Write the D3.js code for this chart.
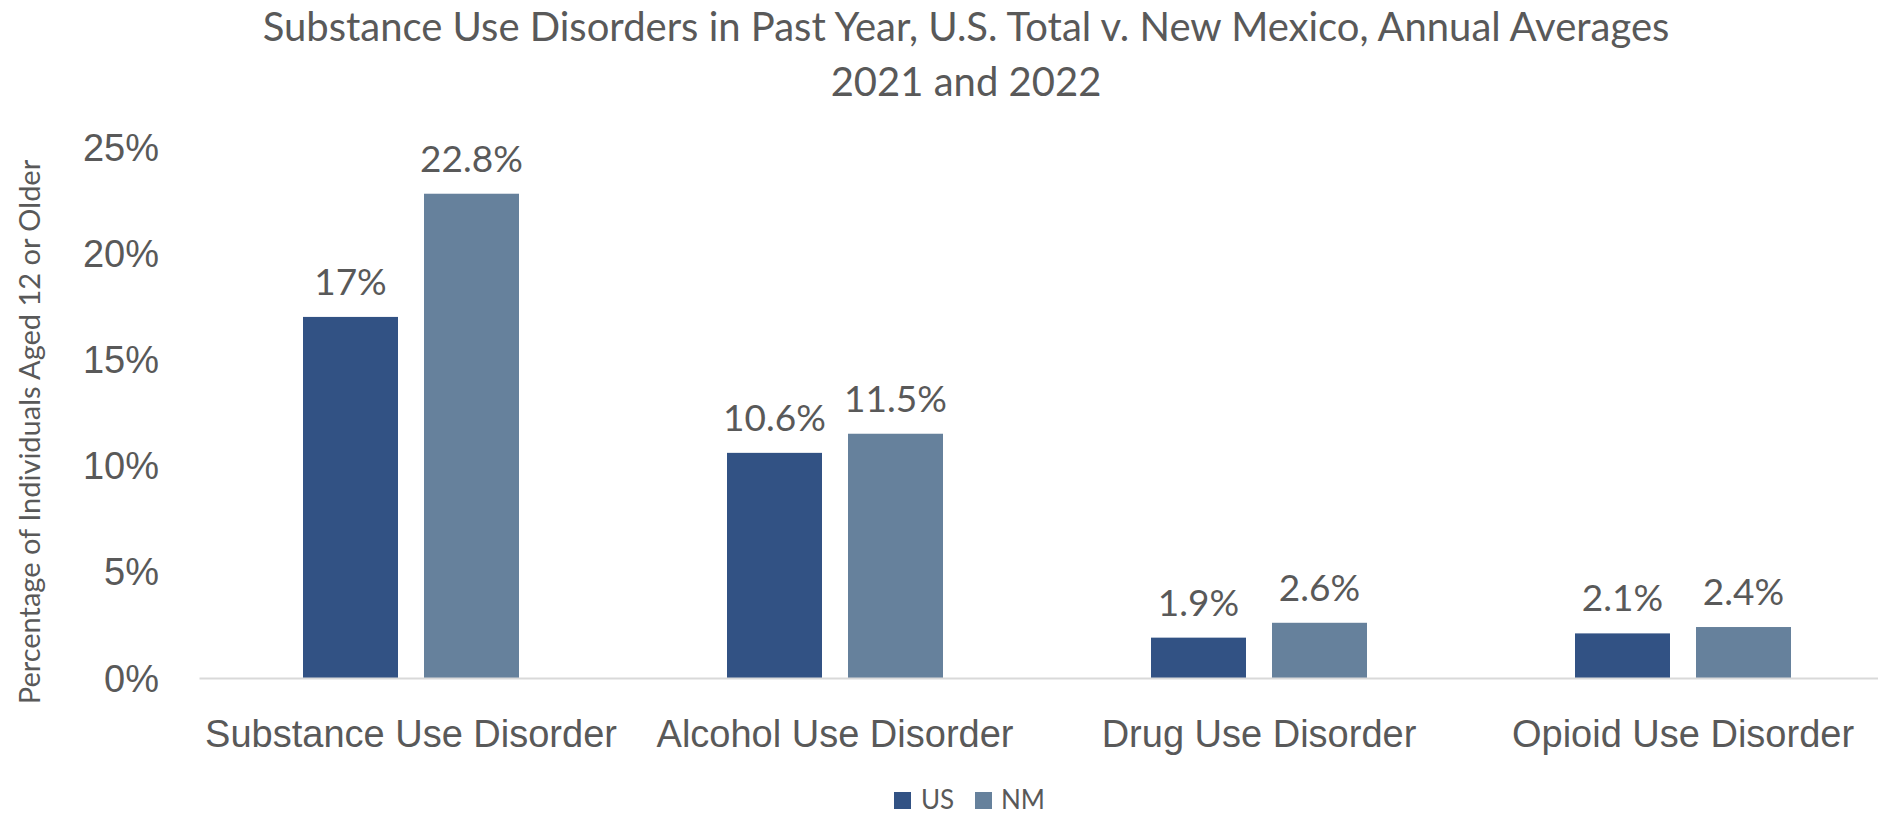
<!DOCTYPE html>
<html>
<head>
<meta charset="utf-8">
<script src="https://cdn.jsdelivr.net/npm/d3@7"></script>
<style>
  html, body { margin: 0; padding: 0; background: #ffffff; }
  svg { display: block; font-family: Lato, "Open Sans", sans-serif; }
</style>
</head>
<body>
<svg id="chart" width="1878" height="815"></svg>
<script>
// Substance use disorder prevalence, people aged 12+, 2021–2022 annual averages
const categories = ["Substance Use Disorder", "Alcohol Use Disorder", "Drug Use Disorder", "Opioid Use Disorder"];
const seriesNames = ["US", "NM"];
const usValues = [17, 10.6, 1.9, 2.1];
const nmValues = [22.8, 11.5, 2.6, 2.4];
const valueLabelsUS = ["17%", "10.6%", "1.9%", "2.1%"];
const valueLabelsNM = ["22.8%", "11.5%", "2.6%", "2.4%"];
const yTicks = [0, 5, 10, 15, 20, 25];
const titleLines = ["Substance Use Disorders in Past Year, U.S. Total v. New Mexico, Annual Averages", "2021 and 2022"];
const yAxisTitle = "Percentage of Individuals Aged 12 or Older";

const colors = { US: "#325284", NM: "#66819c" };
const textColor = "#595959";

const rows = categories.map((c, i) => ({
  category: c,
  values: [
    { key: "US", value: usValues[i], label: valueLabelsUS[i] },
    { key: "NM", value: nmValues[i], label: valueLabelsNM[i] }
  ]
}));

const svg = d3.select("#chart");

const plot = { left: 199, right: 1895, top: 147, bottom: 678 };

const x0 = d3.scaleBand()
  .domain(categories)
  .range([plot.left, plot.right])
  .paddingInner(0)
  .paddingOuter(0);

const groupPad = 104;
const x1 = d3.scaleBand()
  .domain(seriesNames)
  .range([groupPad, x0.bandwidth() - groupPad])
  .paddingInner(0.215)
  .paddingOuter(0);

const y = d3.scaleLinear()
  .domain([0, 25])
  .range([plot.bottom, plot.top]);

// Title
svg.append("g")
  .selectAll("text")
  .data(titleLines)
  .join("text")
  .attr("x", 966)
  .attr("y", (d, i) => 41 + i * 55)
  .attr("text-anchor", "middle")
  .attr("fill", textColor)
  .attr("font-size", 40)
  .text(d => d);

// Y axis (labels only)
const yAxis = svg.append("g")
  .attr("transform", `translate(159,0)`)
  .call(d3.axisLeft(y).tickValues(yTicks).tickFormat(d => d + "%").tickSize(0).tickPadding(0));
yAxis.select(".domain").remove();
yAxis.selectAll("text")
  .attr("font-family", null)
  .attr("font-size", 38)
  .attr("fill", textColor)
  .attr("x", 0)
  .attr("dy", null)
  .attr("y", 13);

// Y axis title
svg.append("text")
  .attr("transform", `translate(40,432) rotate(-90)`)
  .attr("text-anchor", "middle")
  .attr("fill", textColor)
  .attr("font-size", 29)
  .text(yAxisTitle);

// Bars
const groups = svg.append("g")
  .selectAll("g")
  .data(rows)
  .join("g")
  .attr("transform", d => `translate(${x0(d.category)},0)`);

groups.selectAll("rect")
  .data(d => d.values)
  .join("rect")
  .attr("x", d => x1(d.key))
  .attr("y", d => y(d.value))
  .attr("width", x1.bandwidth())
  .attr("height", d => y(0) - y(d.value))
  .attr("fill", d => colors[d.key]);

groups.selectAll("text.value")
  .data(d => d.values)
  .join("text")
  .attr("class", "value")
  .attr("x", d => x1(d.key) + x1.bandwidth() / 2)
  .attr("y", d => y(d.value) - 22)
  .attr("text-anchor", "middle")
  .attr("fill", textColor)
  .attr("font-size", 37)
  .text(d => d.label);

// X axis
const xAxis = svg.append("g")
  .attr("transform", `translate(0,${plot.bottom})`)
  .call(d3.axisBottom(x0).tickSize(0).tickSizeOuter(0).tickPadding(0));
xAxis.select(".domain")
  .attr("stroke", "#d9d9d9")
  .attr("stroke-width", 2);
xAxis.selectAll("text")
  .attr("font-family", null)
  .attr("font-size", 38)
  .attr("fill", textColor)
  .attr("dy", null)
  .attr("y", 69);

// Legend
const legendItems = [
  { key: "US", sx: 894, tx: 921 },
  { key: "NM", sx: 975, tx: 1001 }
];
const legend = svg.append("g");
legend.selectAll("rect")
  .data(legendItems)
  .join("rect")
  .attr("x", d => d.sx)
  .attr("y", 792)
  .attr("width", 17)
  .attr("height", 17)
  .attr("fill", d => colors[d.key]);
legend.selectAll("text")
  .data(legendItems)
  .join("text")
  .attr("x", d => d.tx)
  .attr("y", 809)
  .attr("fill", textColor)
  .attr("font-size", 26)
  .text(d => d.key);
</script>
</body>
</html>
